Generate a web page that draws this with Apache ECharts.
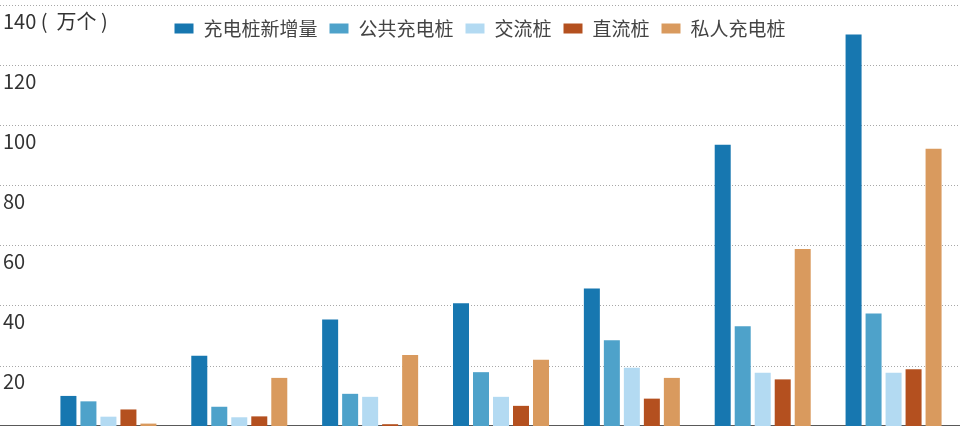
<!DOCTYPE html>
<html><head><meta charset="utf-8">
<script src="https://cdn.jsdelivr.net/npm/echarts@6/dist/echarts.min.js"></script>
<style>html,body{margin:0;padding:0;background:#fff}#c{width:960px;height:426px}</style>
</head><body><div id="c"></div>
<script>
const categories = ['2016', '2017', '2018', '2019', '2020', '2021', '2022'];
const seriesNames = ['充电桩新增量', '公共充电桩', '交流桩', '直流桩', '私人充电桩'];
const newPiles = [10.0, 23.4, 35.4, 40.8, 45.7, 93.5, 130.2];
const publicPiles = [8.2, 6.4, 10.7, 17.9, 28.5, 33.2, 37.4];
const acPiles = [3.1, 2.9, 9.7, 9.7, 19.4, 17.7, 17.7];
const dcPiles = [5.5, 3.2, 0.6, 6.7, 9.1, 15.5, 18.9];
const privatePiles = [0.8, 16.0, 23.6, 22.0, 16.0, 58.9, 92.2];
const yTicks = [0, 20, 40, 60, 80, 100, 120, 140];
const unit = ' (  万个 )';
const colors = ['#1777b0', '#4ea2ca', '#b3daf2', '#b4501f', '#d99a5e'];

const data = [newPiles, publicPiles, acPiles, dcPiles, privatePiles];
const chart = echarts.init(document.getElementById('c'));
const font = '"Noto Sans CJK SC", "Noto Sans", sans-serif';
const yMin = yTicks[0], yMax = yTicks[yTicks.length - 1], yStep = yTicks[1] - yTicks[0];
chart.setOption({
  animation: false,
  color: colors,
  textStyle: { fontFamily: font },
  grid: [
    { left: 43, right: 1, top: 5, bottom: 0, containLabel: false },
    { left: 0, right: 0, top: 5, bottom: 0, containLabel: false }
  ],
  legend: {
    left: 'center', top: 14,
    itemWidth: 19, itemHeight: 10, itemGap: 12,
    icon: 'rect',
    textStyle: { fontSize: 19, color: '#444', fontFamily: font, padding: [0, 0, 0, 5] },
    data: seriesNames
  },
  xAxis: [{
    gridIndex: 0, type: 'category', data: categories,
    axisLine: { show: false }, axisTick: { show: false }, axisLabel: { show: false }
  }, {
    gridIndex: 1, type: 'category', data: categories, position: 'top',
    axisLine: { show: true, lineStyle: { color: '#222', width: 1.5 } },
    axisTick: { show: false }, axisLabel: { show: false }
  }],
  yAxis: [{
    gridIndex: 0, type: 'value', min: yMin, max: yMax, interval: yStep,
    axisLine: { show: false }, axisTick: { show: false },
    splitLine: { show: false }, axisLabel: { show: false }
  }, {
    gridIndex: 1, type: 'value', min: yMin, max: yMax, interval: yStep,
    axisLine: { show: false }, axisTick: { show: false },
    splitLine: { show: true, lineStyle: { color: '#a8a8a8', type: [1, 2], width: 1 } },
    axisLabel: {
      show: true, inside: true, margin: 3, align: 'left', verticalAlign: 'top',
      padding: [6, 0, 0, 0], fontSize: 20, color: '#333', fontFamily: font,
      showMinLabel: false,
      formatter: v => v === yMax ? v + unit : String(v)
    }
  }],
  series: seriesNames.map((n, i) => ({
    name: n, type: 'bar', data: data[i], xAxisIndex: 0, yAxisIndex: 0,
    barWidth: 16, barGap: '25%', z: 3,
    itemStyle: { color: colors[i] }
  }))
});
</script></body></html>
